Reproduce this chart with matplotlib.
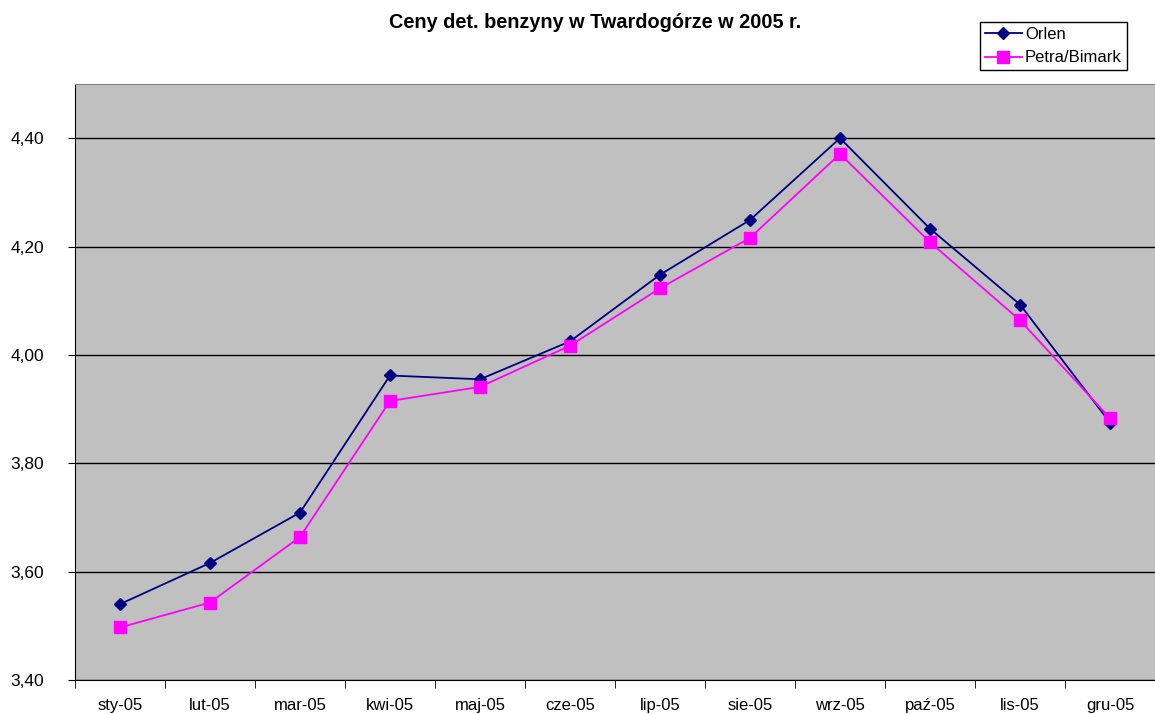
import matplotlib.pyplot as plt
from matplotlib.ticker import FuncFormatter, FixedLocator

months = ["sty-05", "lut-05", "mar-05", "kwi-05", "maj-05", "cze-05",
          "lip-05", "sie-05", "wrz-05", "paź-05", "lis-05", "gru-05"]
orlen = [3.540, 3.616, 3.709, 3.962, 3.955, 4.025,
         4.148, 4.249, 4.400, 4.233, 4.093, 3.875]
petra = [3.497, 3.543, 3.664, 3.915, 3.941, 4.017,
         4.123, 4.216, 4.371, 4.208, 4.064, 3.883]

plt.rcParams["font.family"] = ["Liberation Sans", "DejaVu Sans"]

fig = plt.figure(figsize=(11.55, 7.14), dpi=100)
ax = fig.add_axes([75 / 1155, 1 - 680 / 714, 1 - 75 / 1155, (680 - 84) / 714])
ax.set_facecolor("#C0C0C0")

x = list(range(len(months)))
ax.plot(x, orlen, color="#000080", marker="D", markersize=6, lw=1.3,
        label="Orlen", zorder=3)
ax.plot(x, petra, color="#FF00FF", marker="s", markersize=8, lw=1.3,
        label="Petra/Bimark", zorder=3)

ax.set_xlim(-0.5, len(months) - 0.5)
ax.set_ylim(3.4, 4.5)
ax.set_yticks([3.4, 3.6, 3.8, 4.0, 4.2, 4.4])
ax.yaxis.set_major_formatter(FuncFormatter(lambda v, p: f"{v:.2f}".replace(".", ",")))
ax.yaxis.grid(True, color="black", lw=1.0)
ax.set_axisbelow(True)

ax.set_xticks(x)
ax.set_xticklabels(months)
ax.tick_params(axis="x", which="major", length=0, pad=13)
ax.xaxis.set_minor_locator(FixedLocator([i - 0.5 for i in range(len(months) + 1)]))
ax.tick_params(axis="x", which="minor", length=6, color="black")
ax.tick_params(axis="y", length=5, color="black", pad=17)
ax.tick_params(axis="x", labelsize=12)
ax.tick_params(axis="y", labelsize=12.5)

ax.spines["top"].set_color("#808080")
ax.spines["right"].set_visible(False)
ax.spines["left"].set_color("black")
ax.spines["bottom"].set_color("black")

fig.text(595 / 1155, 1 - 22 / 714, "Ceny det. benzyny w Twardogórze w 2005 r.",
         ha="center", va="center", fontsize=14.3, fontweight="bold")

leg = fig.legend(loc="upper left", bbox_to_anchor=(980 / 1155, 1 - 22 / 714),
                 fontsize=12, frameon=True, fancybox=False, framealpha=1,
                 edgecolor="black", borderpad=0.3, handlelength=2.2,
                 handletextpad=0.2, labelspacing=0.5, borderaxespad=0)
leg.get_frame().set_linewidth(1.0)

fig.savefig("out.png", dpi=100)
